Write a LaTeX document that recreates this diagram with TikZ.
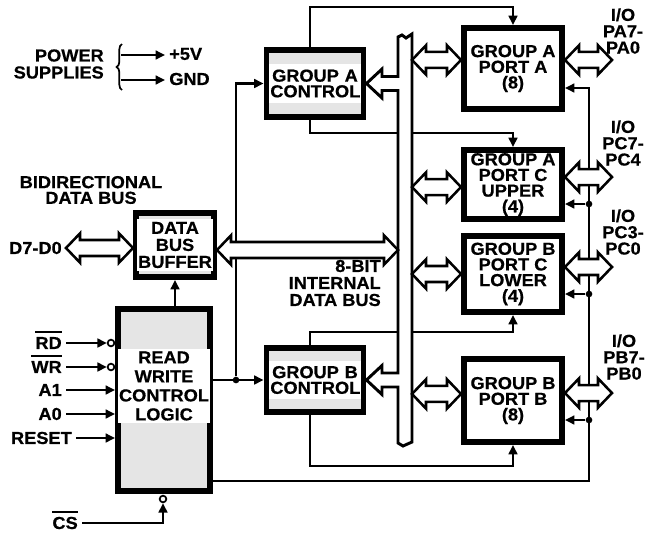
\documentclass[tikz,border=0pt]{standalone}
\usepackage{fontspec}
\setmainfont{Liberation Sans}[FakeStretch=1.05, BoldFeatures={FakeBold=0.6}]
\usetikzlibrary{arrows.meta, calc, decorations.pathreplacing, backgrounds}

% active-low signal name
\newcommand{\barsig}[1]{\setbox0=\hbox{#1}%
  \rlap{\smash{\rule[\dimexpr\ht0+3pt\relax]{\wd0}{1.5pt}}}\box0}

% hollow two-headed bus arrow: left x, right x, y level
\newcommand{\dblarrow}[3]{%
  \filldraw[busarrow] let \p1=#1, \p2=#2, \p3=#3 in
    (\x1,\y3) -- (\x1+10.5pt,\y3+11pt) -- (\x1+10.5pt,\y3+6pt)
    -- (\x2-10.5pt,\y3+6pt) -- (\x2-10.5pt,\y3+11pt) -- (\x2,\y3)
    -- (\x2-10.5pt,\y3-11pt) -- (\x2-10.5pt,\y3-6pt)
    -- (\x1+10.5pt,\y3-6pt) -- (\x1+10.5pt,\y3-11pt) -- cycle;}

\tikzset{
  lbl/.style={font=\bfseries\fontsize{13}{11.75}\selectfont, align=center, inner xsep=3pt, inner ysep=0pt},
  portbox/.style={lbl, draw, line width=4.2pt, fill=white, minimum width=73.8pt, inner sep=0pt},
  ctlbox/.style={draw, line width=4.2pt, fill=gray!20, inner sep=0pt},
  boxtext/.style={lbl, fill=white, inner xsep=1pt, inner ysep=2pt},
  sig/.style={line width=2.2pt, -{Triangle[length=7pt,width=6.5pt]}},
  busarrow/.style={line width=1.9pt, fill=white},
  busline/.style={line width=2.2pt, fill=white},
  jdot/.style={circle, fill, inner sep=0pt, minimum size=5pt},
  bubble/.style={circle, draw, fill=white, line width=1.3pt, inner sep=0pt, minimum size=5pt},
}

\begin{document}
\begin{tikzpicture}[x=0.75pt, y=-0.75pt]
  \useasboundingbox (0,0) rectangle (657,533);

  % --- Power supplies ---
  \node[lbl, anchor=east, align=right, font=\bfseries\fontsize{13}{12.75}\selectfont] (pwr) at (108,64) {POWER\\SUPPLIES};
  \draw[line width=1.3pt, decorate, decoration={brace, amplitude=4pt}] (122,90) -- (122,44);
  \coordinate (ps1) at (121,55);
  \coordinate (ps2) at (121,80);
  \node[lbl, anchor=west] (p5v) at (165,54) {+5V};
  \node[lbl, anchor=west] (gnd) at (165,79) {GND};
  \draw[sig] (ps1) -- (p5v.west |- ps1);
  \draw[sig] (ps2) -- (gnd.west |- ps2);

  % --- Left side blocks ---
  \node[lbl] (bidir) at (91,190) {BIDIRECTIONAL\\DATA BUS};
  \node[lbl, anchor=east] (d7) at (66,248) {D7-D0};
  \node[ctlbox, minimum width=58.8pt, minimum height=48.3pt] (dbb) at (175,245) {};
  \node[boxtext, font=\bfseries\fontsize{13}{12.75}\selectfont] (dbbt) at (dbb) {DATA\\BUS\\BUFFER};
  \node[ctlbox, minimum width=69.3pt, minimum height=136.8pt] (rwcl) at (164,400) {};
  \node[boxtext, font=\bfseries\fontsize{13}{14.25}\selectfont] (rwclt) at (164,386) {READ\\WRITE\\CONTROL\\LOGIC};

  % control inputs
  \node[lbl, anchor=east] (rd) at (66,343) {\barsig{RD}};
  \node[lbl, anchor=east] (wr) at (66,367) {\barsig{WR}};
  \node[lbl, anchor=east] (a1) at (66,390) {A1};
  \node[lbl, anchor=east] (a0) at (66,414) {A0};
  \node[lbl, anchor=east] (rst) at (76,438) {RESET};
  \node[lbl, anchor=east] (cs) at (82,523) {\barsig{CS}};
  \node[bubble] (rdb) at (111,343) {};
  \node[bubble] (wrb) at (111,367) {};
  \node[bubble] (csb) at (163,499) {};

  % --- Group control blocks ---
  \node[ctlbox, minimum width=73pt, minimum height=50.5pt] (gac) at (315,83.5) {};
  \node[boxtext, inner ysep=4pt, text width=67pt] (gact) at (gac) {GROUP A\\CONTROL};
  \node[ctlbox, minimum width=73pt, minimum height=48.3pt] (gbc) at (315,380) {};
  \node[boxtext, inner ysep=4pt, text width=67pt] (gbct) at (gbc) {GROUP B\\CONTROL};
  \node[lbl, anchor=east, align=right, font=\bfseries\fontsize{13}{12.75}\selectfont] (ibus) at (385,283) {8-BIT\\INTERNAL\\DATA BUS};

  % --- Ports ---
  \node[portbox, minimum height=61pt] (pa) at (513,68.5) {GROUP A\\PORT A\\(8)};
  \node[portbox, minimum height=52pt] (pcu) at (513,184.5) {GROUP A\\PORT C\\UPPER\\(4)};
  \node[portbox, minimum height=57.3pt] (pcl) at (513,274) {GROUP B\\PORT C\\LOWER\\(4)};
  \node[portbox, minimum height=62.5pt] (pb) at (513,400.5) {GROUP B\\PORT B\\(8)};

  \node[lbl, font=\bfseries\fontsize{13}{12.25}\selectfont] (ioa) at (623,31) {I/O\\PA7-\\PA0};
  \node[lbl, font=\bfseries\fontsize{13}{12.25}\selectfont] (iocu) at (623,143) {I/O\\PC7-\\PC4};
  \node[lbl, font=\bfseries\fontsize{13}{12.25}\selectfont] (iocl) at (623,232) {I/O\\PC3-\\PC0};
  \node[lbl, font=\bfseries\fontsize{13}{12.25}\selectfont] (iob) at (624,357) {I/O\\PB7-\\PB0};

  % junctions
  \node[jdot] (jn) at (236,380) {};
  \node[jdot] (dcu) at (589,204) {};
  \node[jdot] (dcl) at (589,294) {};
  \node[jdot] (dpb) at (589,420) {};

  \coordinate (busL) at (398,0);
  \coordinate (busR) at (412,0);
  \coordinate (iox) at (612,0);
  \coordinate (gat) at (310,7);
  \coordinate (gab) at (310,133);
  \coordinate (gbt) at (310,332);
  \coordinate (gbb) at (310,466);
  \coordinate (cb) at (589,481);
  \coordinate (ct) at (589,88);

  \begin{pgfonlayer}{background}
    % signal lines
    \draw[sig] (rd.east) -- (rdb.west);
    \draw[sig] (wr.east) -- (wrb.west);
    \draw[sig] (a1.east) -- (a1.east -| rwcl.west);
    \draw[sig] (a0.east) -- (a0.east -| rwcl.west);
    \draw[sig] (rst.east) -- (rst.east -| rwcl.west);
    \draw[sig] (cs.east) -| (csb.south);
    \draw[sig] (dbb.south |- rwcl.north) -- (dbb.south);
    \draw[sig] (rwcl.east |- jn) -- (gbc.west);
    \draw[sig] (jn) |- (gac.west);
    \draw[sig] (rwcl.east |- cb) -- (cb) -- (ct) -- (ct -| pa.east);
    \draw[sig] (dcu) -- (dcu -| pcu.east);
    \draw[sig] (dcl) -- (dcl -| pcl.east);
    \draw[sig] (dpb) -- (dpb -| pb.east);
    \draw[sig] (gat |- gac.north) -- (gat) -| (pa.north);
    \draw[sig] (gab |- gac.south) -- (gab) -| (pcu.north);
    \draw[sig] (gbt |- gbc.north) -- (gbt) -| (pcl.south);
    \draw[sig] (gbb |- gbc.south) -- (gbb) -| (pb.south);

    % 8-bit internal bus
    \filldraw[busline] (398,37) -- (398,76.5) -- (382,76.5) -- (382,69) -- (gac.east)
      -- (382,98) -- (382,90.5) -- (398,90.5) -- (398,373) -- (382,373) -- (382,365.5)
      -- (gbc.east) -- (382,394.5) -- (382,387) -- (398,387) -- (398,443) -- (403,446)
      -- (412,442) -- (412,34) -- (406,38) -- (402,35) -- cycle;

    % bus arrows
    \dblarrow{(d7.east)}{(dbb.west)}{([yshift=-2.25pt]dbb.west)}
    \dblarrow{(dbb.east)}{(busL)}{([yshift=-3.75pt]dbb.east)}
    \dblarrow{(busR)}{(pa.west)}{([yshift=6.4pt]pa.west)}
    \dblarrow{(busR)}{(pcu.west)}{([yshift=-1.9pt]pcu.west)}
    \dblarrow{(busR)}{(pcl.west)}{(pcl.west)}
    \dblarrow{(busR)}{(pb.west)}{([yshift=4.9pt]pb.west)}
    \dblarrow{(pa.east)}{(iox)}{([yshift=6.4pt]pa.east)}
    \dblarrow{(pcu.east)}{(iox)}{([yshift=5.6pt]pcu.east)}
    \dblarrow{(pcl.east)}{(iox)}{([yshift=5.25pt]pcl.east)}
    \dblarrow{(pb.east)}{(iox)}{([yshift=5.6pt]pb.east)}
  \end{pgfonlayer}
\end{tikzpicture}
\end{document}
